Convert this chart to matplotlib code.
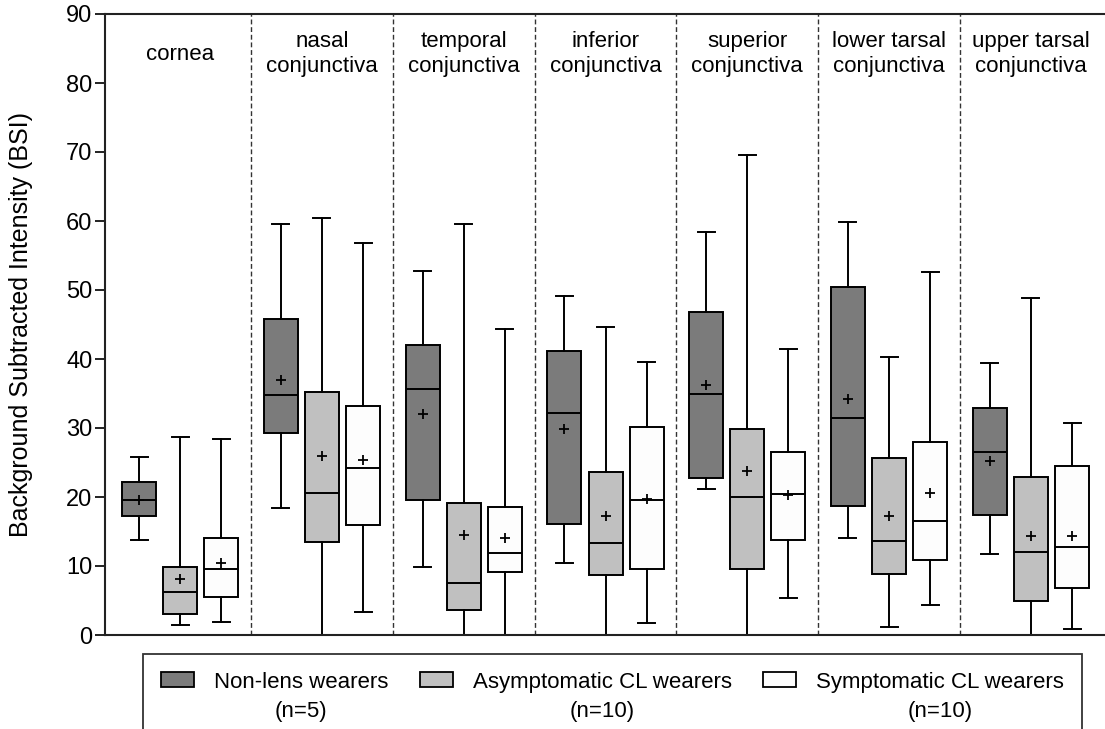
import matplotlib
matplotlib.use("Agg")
import matplotlib.pyplot as plt
from matplotlib.patches import Rectangle, Patch
from matplotlib.legend_handler import HandlerPatch

plt.rcParams['font.family'] = ['Liberation Sans', 'DejaVu Sans']

# ---------------- data ----------------
regions = ["cornea", "nasal\nconjunctiva", "temporal\nconjunctiva", "inferior\nconjunctiva",
           "superior\nconjunctiva", "lower tarsal\nconjunctiva", "upper tarsal\nconjunctiva"]
groups = ["Non-lens wearers\n(n=5)", "Asymptomatic CL wearers\n(n=10)", "Symptomatic CL wearers\n(n=10)"]

# per group: lists over regions
nonlens_whislo = [13.8, 18.4, 9.8, 10.5, 21.2, 14.1, 11.7]
nonlens_q1     = [17.3, 29.3, 19.5, 16.1, 22.8, 18.7, 17.4]
nonlens_med    = [19.6, 34.8, 35.6, 32.2, 34.9, 31.5, 26.5]
nonlens_q3     = [22.2, 45.8, 42.1, 41.2, 46.8, 50.5, 32.9]
nonlens_whishi = [25.8, 59.5, 52.7, 49.1, 58.4, 59.9, 39.4]
nonlens_mean   = [19.6, 37.0, 32.1, 29.8, 36.2, 34.2, 25.2]

asym_whislo = [1.4, 0.0, 0.0, 0.0, 0.0, 1.1, 0.0]
asym_q1     = [3.0, 13.5, 3.6, 8.7, 9.6, 8.8, 5.0]
asym_med    = [6.3, 20.6, 7.6, 13.3, 20.0, 13.6, 12.1]
asym_q3     = [9.8, 35.2, 19.2, 23.6, 29.8, 25.6, 22.9]
asym_whishi = [28.7, 60.5, 59.5, 44.7, 69.5, 40.3, 48.9]
asym_mean   = [8.1, 25.9, 14.5, 17.2, 23.7, 17.2, 14.3]

sym_whislo = [1.9, 3.3, 0.0, 1.7, 5.4, 4.4, 0.8]
sym_q1     = [5.5, 16.0, 9.1, 9.5, 13.7, 10.8, 6.8]
sym_med    = [9.5, 24.2, 11.9, 19.6, 20.4, 16.5, 12.8]
sym_q3     = [14.0, 33.2, 18.5, 30.1, 26.5, 28.0, 24.5]
sym_whishi = [28.4, 56.8, 44.4, 39.5, 41.4, 52.6, 30.7]
sym_mean   = [10.5, 25.3, 14.1, 19.7, 20.3, 20.6, 14.4]

yticks = [0, 10, 20, 30, 40, 50, 60, 70, 80, 90]
ylabel = "Background Subtracted Intensity (BSI)"

# ---------------- style ----------------
colors = ["#7b7b7b", "#c0c0c0", "#fdfdfd"]
offsets = [-0.29, 0.0, 0.29]
box_w = 0.24
cap_w = 0.12

W, H = 1105, 729
fig = plt.figure(figsize=(W / 100, H / 100), dpi=100)
ax = fig.add_axes([105 / W, 94 / H, 1000 / W, 621 / H])

series = [
    (nonlens_whislo, nonlens_q1, nonlens_med, nonlens_q3, nonlens_whishi, nonlens_mean),
    (asym_whislo, asym_q1, asym_med, asym_q3, asym_whishi, asym_mean),
    (sym_whislo, sym_q1, sym_med, sym_q3, sym_whishi, sym_mean),
]

for gi, (lo, q1, med, q3, hi, mean) in enumerate(series):
    stats = []
    for ri in range(len(regions)):
        stats.append(dict(whislo=lo[ri], q1=q1[ri], med=med[ri], q3=q3[ri],
                          whishi=hi[ri], mean=mean[ri], fliers=[], label=""))
    pos = [ri + 0.5 + offsets[gi] for ri in range(len(regions))]
    bp = ax.bxp(stats, positions=pos, widths=box_w, capwidths=cap_w,
                patch_artist=True, showmeans=True, meanline=False,
                manage_ticks=False, showfliers=False,
                boxprops=dict(facecolor=colors[gi], edgecolor="black", linewidth=1.4),
                whiskerprops=dict(color="black", linewidth=1.4),
                capprops=dict(color="black", linewidth=1.4),
                medianprops=dict(color="black", linewidth=1.4),
                meanprops=dict(marker="+", markeredgecolor="black", markerfacecolor="black",
                               markersize=7, markeredgewidth=1.3))
    for el in bp["caps"]:
        el.set_clip_on(False)
    for el in bp["whiskers"]:
        el.set_clip_on(False)

# dividers
for d in range(1, len(regions)):
    ax.axvline(d, color="#333333", linewidth=1.0, linestyle=(0, (3.5, 2)), zorder=0)

# region labels
for ri, lab in enumerate(regions):
    ax.text(ri + 0.5, 84.2, lab, ha="center", va="center", fontsize=16, linespacing=1.27)

ax.set_xlim(-0.03, 7.0226)
ax.set_ylim(0, 90)
ax.set_yticks(yticks)
ax.set_xticks([])
ax.tick_params(axis="y", labelsize=17, length=7, width=1.4, direction="out", pad=2, color="#222222")
for s in ["left", "bottom", "top"]:
    ax.spines[s].set_linewidth(1.5)
    ax.spines[s].set_color("#222222")
ax.spines["right"].set_visible(False)
ax.set_ylabel(ylabel, fontsize=18)
ax.yaxis.set_label_coords(-0.072, 0.5)

# legend
SHIFT = 12.5


def make_patch(legend, orig_handle, xdescent, ydescent, width, height, fontsize):
    return Rectangle((-xdescent, -ydescent + SHIFT), width, height)


handles = [Patch(facecolor=c, edgecolor="black", linewidth=1.3) for c in colors]
leg = fig.legend(handles, groups, loc="upper left", ncol=3, mode="expand",
                 bbox_to_anchor=(143 / W, 0.0, 939 / W, 1 - 654 / H),
                 borderaxespad=0, fontsize=16, frameon=True, fancybox=False,
                 edgecolor="black", handlelength=1.5, handleheight=0.65,
                 handletextpad=0.9, borderpad=0.8,
                 handler_map={Patch: HandlerPatch(patch_func=make_patch)})
leg.get_frame().set_linewidth(1.3)
for t in leg.get_texts():
    t.set_multialignment("center")
    t.set_linespacing(1.5)

fig.savefig("out.png", dpi=100)
